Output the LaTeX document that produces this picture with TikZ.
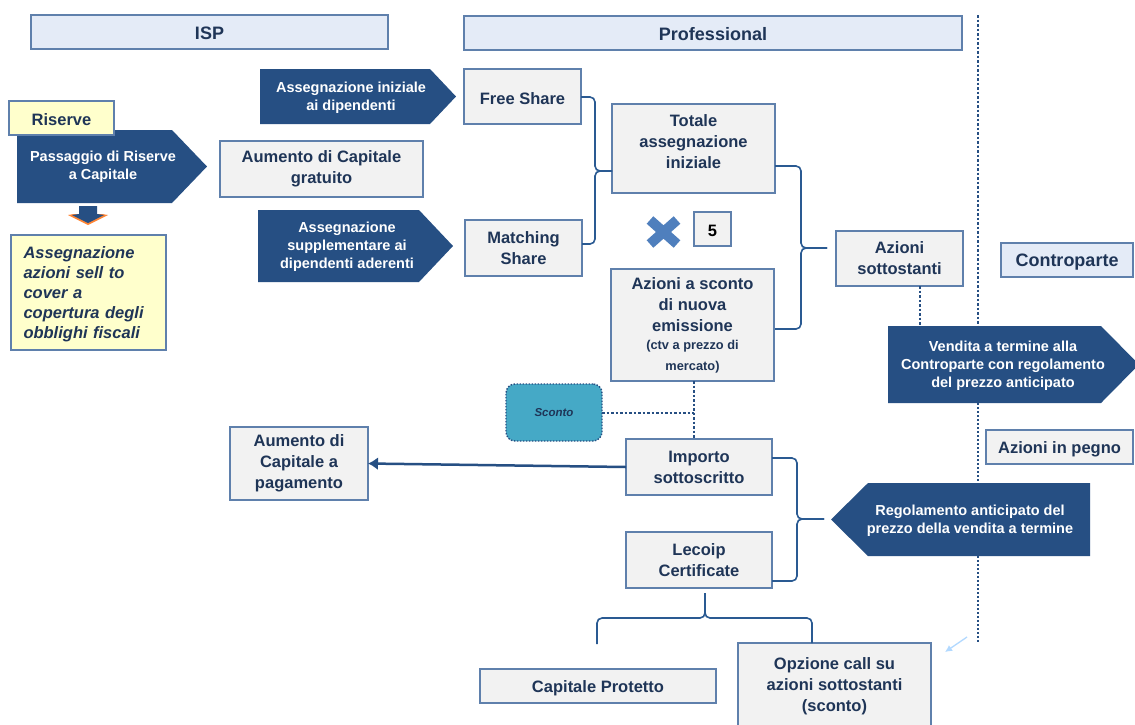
\documentclass[tikz,border=0pt]{standalone}
\usepackage{fontspec}
\setmainfont{Liberation Sans}
\usetikzlibrary{arrows.meta}
\definecolor{navy}{HTML}{264F83}
\definecolor{edgeblue}{HTML}{5F80AC}
\definecolor{inkblue}{HTML}{1F3557}
\definecolor{headfill}{HTML}{E4EBF7}
\definecolor{boxfill}{HTML}{F2F2F2}
\definecolor{noteyellow}{HTML}{FFFFCC}
\definecolor{teal}{HTML}{45A9C6}
\definecolor{crossblue}{HTML}{4F7FBD}
\definecolor{linkblue}{HTML}{2A5A92}
\tikzset{
  x=1pt,y=-1pt,
  every node/.style={inner sep=0pt,outer sep=0pt,align=center},
  bigtext/.style={font=\fontsize{16.5}{21}\selectfont\bfseries,text=inkblue,execute at begin node=\rule{0pt}{16pt}},
  smalltext/.style={font=\fontsize{14.5}{18}\selectfont\bfseries,text=white},
  box/.style={draw=edgeblue,line width=1.2pt,fill=boxfill,bigtext},
  headbox/.style={draw=edgeblue,line width=1.2pt,fill=headfill,bigtext,font=\fontsize{18}{20}\selectfont\bfseries},
  notebox/.style={draw=edgeblue,line width=1.2pt,fill=noteyellow,bigtext},
  arrowshape/.style={fill=navy,draw=none},
  brace/.style={draw=linkblue,line width=1.6pt,rounded corners=5pt},
  dotlink/.style={draw=navy,line width=2pt,dash pattern=on 2.5pt off 2pt},
  fineline/.style={draw=navy,line width=1.3pt,dash pattern=on 2pt off 2pt},
}
\newcommand{\bx}[6][box]{\node[#1,minimum width=#4-#3,minimum height=#6-#5] (#2) at ({(#3+#4)/2},{(#5+#6)/2})}
\newcommand{\sm}{\fontsize{12.8}{18}\selectfont}
\begin{document}
\begin{tikzpicture}
\useasboundingbox[fill=white] (0,0) rectangle (1135,724);

% headers
\bx[headbox]{isp}{31}{388}{15}{49} {ISP};
\bx[headbox]{prof}{464}{962}{16}{50} {Professional};
\bx[headbox]{contro}{1001}{1133}{243}{277} {Controparte};

% vertical dotted separator
\coordinate (sepA) at (978,15);
\coordinate (sepB) at (978,326);
\coordinate (sepC) at (978,403);
\coordinate (sepD) at (978,483);
\coordinate (sepE) at (978,556);
\coordinate (sepF) at (978,642);
\draw[dotlink] (sepA) -- (sepB);
\draw[fineline] (sepC) -- (sepD);
\draw[fineline] (sepE) -- (sepF);

% arrow shapes
\fill[arrowshape] (17,130) -- (172,130) -- (207,166.5) -- (172,203) -- (17,203) -- cycle;
\node[smalltext] (passaggio) at (103,167) {Passaggio di Riserve\\a Capitale};
\fill[arrowshape] (260,69) -- (430,69) -- (456,96.5) -- (430,124) -- (260,124) -- cycle;
\node[smalltext] (iniziale) at (351,98) {Assegnazione iniziale\\ai dipendenti};
\fill[arrowshape] (258,210) -- (419,210) -- (453,246) -- (419,282) -- (258,282) -- cycle;
\node[smalltext] (suppl) at (347,247) {Assegnazione\\supplementare ai\\dipendenti aderenti};
\fill[arrowshape] (888,326) -- (1101,326) -- (1139,364.5) -- (1101,403) -- (888,403) -- cycle;
\node[smalltext] (vendita) at (1003,366) {Vendita a termine alla\\Controparte con regolamento\\del prezzo anticipato};
\fill[arrowshape] (831,519.5) -- (868,483) -- (1090,483) -- (1090,556) -- (868,556) -- cycle;
\node[smalltext] (regol) at (970,520.5) {Regolamento anticipato del\\prezzo della vendita a termine};

% left column
\bx[notebox]{riserve}{9}{114}{101}{135} {Riserve};
\bx[box]{gratuito}{220}{423}{141}{197} {Aumento di Capitale\\gratuito};
\node[notebox,minimum width=155,minimum height=115,font=\fontsize{16.5}{20}\selectfont\bfseries\itshape,text width=130,align=left] (sell) at (88.5,292.5)
  {Assegnazione\\azioni sell to\\cover a\\copertura degli\\obblighi fiscali};

% small down arrow
\fill[orange!80!red!80!white] (74,214) -- (102,214) -- (108,215) -- (88,225) -- (68,215) -- cycle;
\fill[navy] (79,206) -- (97,206) -- (97,214) -- (104,215) -- (88,223) -- (72,215) -- (79,214) -- cycle;

% centre boxes
\bx[box]{free}{464}{581}{69}{124} {Free Share};
\bx[box]{matching}{465}{582}{220}{276} {Matching\\Share};
\bx[box]{totale}{612}{775}{104}{193} {Totale\\assegnazione\\iniziale\\[-7pt]\mbox{}};
\bx[box]{sconto}{611}{774}{269}{381} {Azioni a sconto\\di nuova\\emissione\\[-3pt]\sm (ctv a prezzo di\\\sm mercato)};
\bx[box]{sottostanti}{836}{963}{231}{286} {Azioni\\sottostanti};
\bx[box]{five}{694}{731}{212}{246} {\color{black}5};
\draw[crossblue,line width=10pt] (650,220) -- (677,244) (677,220) -- (650,244);

\bx[box]{importo}{626}{772}{439}{495} {Importo\\sottoscritto};
\bx[box]{lecoip}{626}{772}{532}{588} {Lecoip\\Certificate};
\bx[box]{pagamento}{230}{368}{427}{500} {Aumento di\\Capitale a\\pagamento};
\bx[box]{pegno}{986}{1133}{430}{464} {Azioni in pegno};
\bx[box]{protetto}{480}{716}{669}{703} {Capitale Protetto};
\bx[box]{opzione}{738}{931}{643}{730} {Opzione call su\\azioni sottostanti\\(sconto)};

% Sconto
\node[draw=navy,line width=1.4pt,dash pattern=on 1.5pt off 1.5pt,fill=teal,rounded corners=9pt,minimum width=96,minimum height=57,
  font=\fontsize{11.5}{13}\selectfont\bfseries\itshape,text=inkblue] (scontoTag) at (554,412.5) {Sconto};

% dotted links
\coordinate (venditaTop) at (920,326);
\draw[dotlink] (sottostanti.south -| venditaTop) -- (venditaTop);
\coordinate (scontoLow) at (694,381);
\coordinate (importoTop) at (694,439);
\draw[dotlink] (scontoLow) -- (importoTop);
\draw[dotlink] (scontoTag.east) -- (scontoTag.east -| scontoLow);

% main arrow
\draw[navy,line width=2.5pt,-{Latex[length=10pt,width=13pt]}] (importo.west) -- (pagamento.east);

% braces
\coordinate (j1) at (612,171);
\coordinate (fr) at (581,97);
\coordinate (ma) at (582,244);
\draw[brace] (fr) -- (595,97) -- (595,171) -- (j1);
\draw[brace] (ma) -- (595,244) -- (595,171) -- (j1);

\coordinate (to) at (775,166);
\coordinate (az) at (775,329);
\coordinate (j2) at (827,248);
\draw[brace] (to) -- (801,166) -- (801,248) -- (j2);
\draw[brace] (az) -- (801,329) -- (801,248) -- (j2);

\coordinate (im) at (772,458);
\coordinate (le) at (772,581);
\coordinate (j3) at (824,519);
\draw[brace] (im) -- (797,458) -- (797,519) -- (j3);
\draw[brace] (le) -- (797,581) -- (797,519) -- (j3);

\coordinate (top) at (705,593);
\coordinate (bl) at (597,644);
\coordinate (br) at (812,643);
\draw[brace] (top) -- (705,618) -- (597,618) -- (bl);
\draw[brace] (top) -- (705,618) -- (812,618) -- (br);

% faint arrow
\coordinate (faintA) at (967,637);
\coordinate (faintB) at (945,652);
\draw[blue!50!cyan!30!white,line width=1.3pt,-{Latex[length=7pt,width=7pt]}] (faintA) -- (faintB);
\end{tikzpicture}
\end{document}
